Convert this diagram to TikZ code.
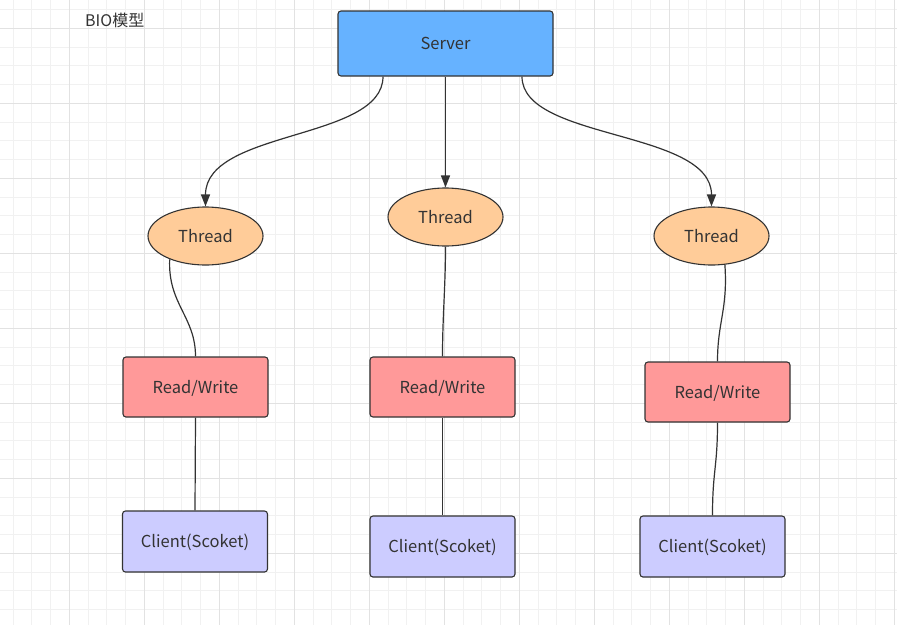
\documentclass[tikz,border=0pt]{standalone}
\usepackage{fontspec}
\setmainfont{Noto Sans CJK SC}
\usetikzlibrary{arrows.meta,shapes.geometric}
\definecolor{gridminor}{HTML}{F1F1F1}
\definecolor{gridmajor}{HTML}{E2E2E2}
\definecolor{srvfill}{HTML}{66B2FF}
\definecolor{thrfill}{HTML}{FFCC99}
\definecolor{rwfill}{HTML}{FF9999}
\definecolor{clifill}{HTML}{CCCCFF}
\definecolor{ink}{HTML}{333333}
\tikzset{
  lbl/.style={text=ink, font=\fontsize{16.5}{19}\selectfont, text height=12pt, text depth=0pt},
  box/.style={lbl, draw=ink, line width=1.1pt, rounded corners=3pt, minimum width=145pt, minimum height=60pt, inner sep=0pt},
  thr/.style={lbl, ellipse, draw=ink, line width=1.1pt, fill=thrfill, minimum width=115pt, minimum height=58pt, inner sep=0pt},
  link/.style={draw=ink, line width=1.2pt},
  arr/.style={link, -{Triangle[length=12pt,width=9pt]}},
}
\begin{document}
\begin{tikzpicture}[x=1pt,y=-1pt]
\useasboundingbox (0,0) rectangle (897,625);
\fill[white] (0,0) rectangle (897,625);
% grid
\foreach \i in {0,...,48} {
  \pgfmathsetmacro{\gx}{13.05+18.75*\i}
  \draw[gridminor, line width=0.8pt] (\gx,0) -- (\gx,625);
}
\foreach \i in {0,...,33} {
  \pgfmathsetmacro{\gy}{9.55+18.75*\i}
  \draw[gridminor, line width=0.8pt] (0,\gy) -- (897,\gy);
}
\foreach \i in {0,...,11} {
  \pgfmathsetmacro{\gx}{69.3+75*\i}
  \draw[gridmajor, line width=0.9pt] (\gx,0) -- (\gx,625);
}
\foreach \i in {0,...,8} {
  \pgfmathsetmacro{\gy}{28.3+75*\i}
  \draw[gridmajor, line width=0.9pt] (0,\gy) -- (897,\gy);
}
\node[anchor=west, text=ink, font=\fontsize{16}{18}\selectfont, inner sep=0pt] (title) at (85,20) {BIO模型};

\node[box, fill=srvfill, minimum width=215pt, minimum height=65pt] (srv) at (445.5,43.5) {Server};

\node[thr] (t1) at (205.5,236) {Thread};
\node[thr] (t2) at (445.5,217) {Thread};
\node[thr] (t3) at (711.5,236) {Thread};

\node[box, fill=rwfill] (rw1) at (195.5,387) {Read/Write};
\node[box, fill=rwfill] (rw2) at (442.5,387) {Read/Write};
\node[box, fill=rwfill] (rw3) at (717.5,392) {Read/Write};

\node[box, fill=clifill, minimum height=61pt] (c1) at (195,541.5) {Client(Scoket)};
\node[box, fill=clifill, minimum height=61pt] (c2) at (442.5,546.5) {Client(Scoket)};
\node[box, fill=clifill, minimum height=61pt] (c3) at (712.5,546.5) {Client(Scoket)};

\draw[arr] ([xshift=-62.5pt]srv.south) .. controls +(0,64) and +(0,-77) .. (t1.north);
\draw[arr] (srv.south) -- (t2.north);
\draw[arr] ([xshift=76.5pt]srv.south) .. controls +(0,64) and +(0,-77) .. (t3.north);

\draw[link] (t1.213) .. controls +(-2,45) and +(0,-40) .. (rw1.north);
\draw[link] (t2.south) .. controls +(0,40) and +(0,-40) .. (rw2.north);
\draw[link] (t3.295) .. controls +(3,45) and +(0,-40) .. (rw3.north);

\draw[link] (rw1.south) -- (c1.north);
\draw[link] (rw2.south) -- (c2.north);
\draw[link] (rw3.south) .. controls +(0,45) and +(0,-45) .. (c3.north);
\end{tikzpicture}
\end{document}
